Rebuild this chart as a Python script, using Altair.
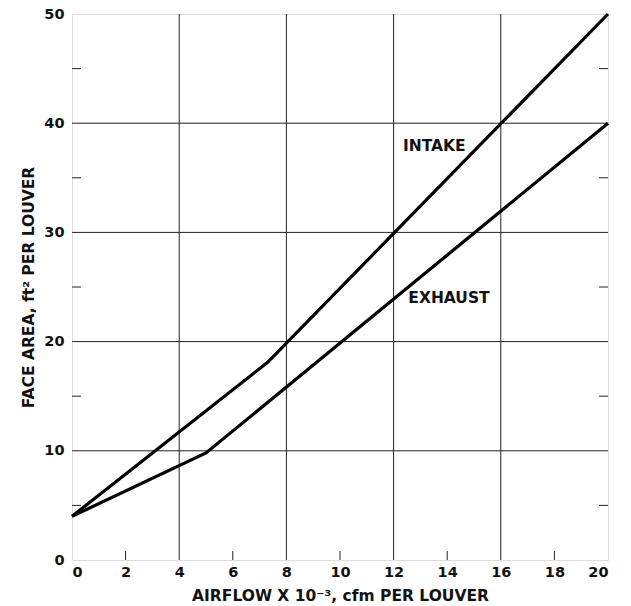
import altair as alt
import pandas as pd

# ---- data ----
intake_x = [0, 7.3, 20]
intake_y = [4, 18.1, 50]
exhaust_x = [0, 5, 20]
exhaust_y = [4, 9.8, 40]

x_labels = [0, 2, 4, 6, 8, 10, 12, 14, 16, 18, 20]
y_labels = [0, 10, 20, 30, 40, 50]
x_grid = [4, 8, 12, 16]
y_grid = [10, 20, 30, 40]
x_minor = [2, 6, 10, 14, 18]
y_minor = [5, 15, 25, 35, 45]

curve_names = ["INTAKE", "EXHAUST"]
curve_label_x = [12.35, 12.55]
curve_label_y = [37.9, 24.0]

W, H = 536, 546
FONT = "DejaVu Sans"

xs = alt.Scale(domain=[0, 20], nice=False, zero=False)
ys = alt.Scale(domain=[0, 50], nice=False, zero=False)

lines_df = pd.DataFrame(
    [{"series": "INTAKE", "x": a, "y": b, "o": i} for i, (a, b) in enumerate(zip(intake_x, intake_y))]
    + [{"series": "EXHAUST", "x": a, "y": b, "o": i} for i, (a, b) in enumerate(zip(exhaust_x, exhaust_y))]
)

x_axis = alt.Axis(
    values=x_labels, grid=False, ticks=False, tickSize=0, domain=False,
    labelFont=FONT, labelFontSize=14.5, labelFontWeight="bold", labelColor="#111", labelPadding=5,
    title="AIRFLOW X 10⁻³, cfm PER LOUVER", titleFont=FONT, titleFontSize=15.5,
    titleFontWeight="bold", titleColor="#111", titlePadding=10,
)
y_axis = alt.Axis(
    values=y_labels, grid=False, ticks=False, tickSize=0, domain=False,
    labelFont=FONT, labelFontSize=14.5, labelFontWeight="bold", labelColor="#111", labelPadding=8,
    title="FACE AREA, ft² PER LOUVER", titleFont=FONT, titleFontSize=15.5,
    titleFontWeight="bold", titleColor="#111", titlePadding=7,
)

lines = alt.Chart(lines_df).mark_line(color="black", strokeWidth=3.2).encode(
    x=alt.X("x:Q", scale=xs, axis=x_axis),
    y=alt.Y("y:Q", scale=ys, axis=y_axis),
    detail="series:N",
    order="o:Q",
)

vgrid = alt.Chart(pd.DataFrame({"x": x_grid})).mark_rule(color="#222", strokeWidth=1).encode(
    x=alt.X("x:Q", scale=xs)
)
hgrid = alt.Chart(pd.DataFrame({"y": y_grid})).mark_rule(color="#222", strokeWidth=1).encode(
    y=alt.Y("y:Q", scale=ys)
)
bottom_ticks = alt.Chart(pd.DataFrame({"x": x_minor})).mark_rule(color="#222", strokeWidth=1).encode(
    x=alt.X("x:Q", scale=xs), y=alt.value(H - 9), y2=alt.value(H)
)
left_ticks = alt.Chart(pd.DataFrame({"y": y_minor})).mark_rule(color="#222", strokeWidth=1).encode(
    y=alt.Y("y:Q", scale=ys), x=alt.value(0), x2=alt.value(9)
)
right_ticks = alt.Chart(pd.DataFrame({"y": y_minor})).mark_rule(color="#222", strokeWidth=1).encode(
    y=alt.Y("y:Q", scale=ys), x=alt.value(W - 9), x2=alt.value(W)
)

labels = alt.Chart(pd.DataFrame({"name": curve_names, "x": curve_label_x, "y": curve_label_y})).mark_text(
    font=FONT, fontSize=15.5, fontWeight="bold", align="left", baseline="middle", color="#111"
).encode(
    x=alt.X("x:Q", scale=xs), y=alt.Y("y:Q", scale=ys), text="name:N"
)

chart = alt.layer(vgrid, hgrid, bottom_ticks, left_ticks, right_ticks, lines, labels).properties(
    width=W, height=H,
    autosize=alt.AutoSizeParams(type="none"),
    padding={"left": 64, "top": 6, "right": 15, "bottom": 52},
).configure_view(stroke="black", strokeWidth=1.5).configure(background="white")

chart.save("out.html", embed_options={"renderer": "svg", "actions": False})
